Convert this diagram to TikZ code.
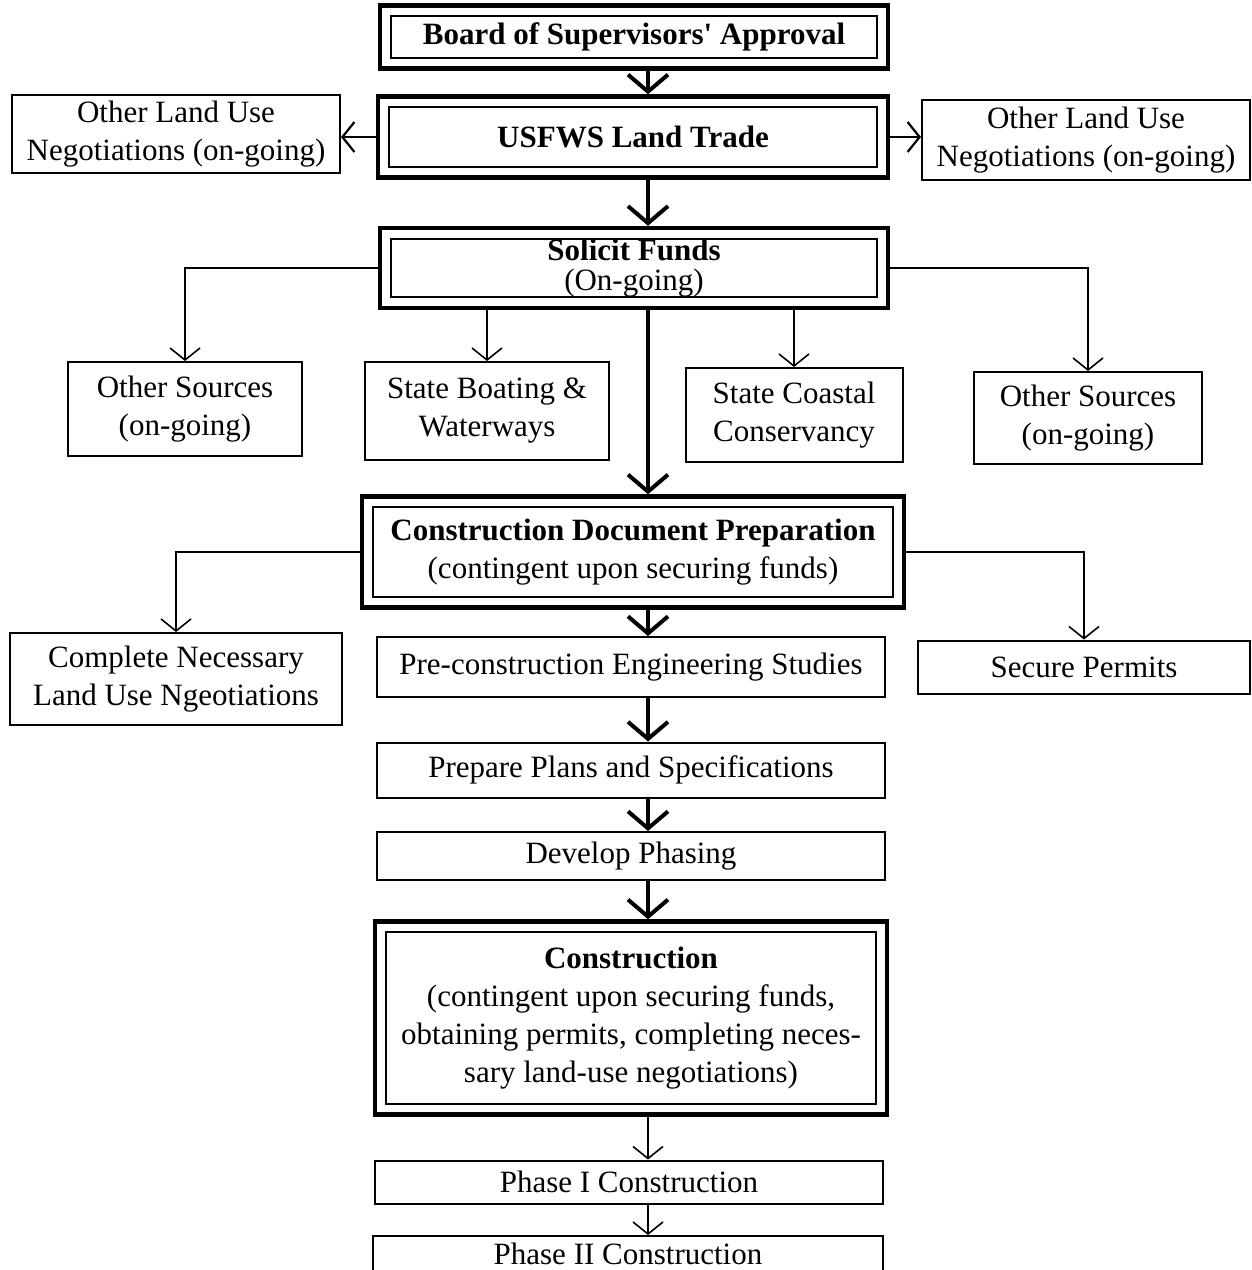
\documentclass[tikz,border=0pt]{standalone}
\usepackage{fontspec}
\setmainfont{Liberation Serif}
\usetikzlibrary{arrows.meta}

\begin{document}
\begin{tikzpicture}[
		x=1pt, y=-1pt,
		every node/.style={font=\fontsize{31}{38}\selectfont},
		box/.style={draw, line width=2pt, align=center, inner sep=0pt},
		dbox/.style={draw, line width=4.5pt, align=center, inner sep=0pt},
		inbox/.style={line width=2pt},
		mainarr/.style={line width=4pt, -{Straight Barb[length=17pt,width=40pt]}},
		sidearr/.style={line width=2.2pt, -{Straight Barb[length=12pt,width=30pt]}},
		subarr/.style={line width=1.6pt, -{Straight Barb[length=12pt,width=30pt]}}
	]
	\clip (0,0) rectangle (1252,1270);
	\fill[white] (0,0) rectangle (1252,1270);
	\coordinate (spine) at (648,0);

	% approval and land trade
	\node[dbox, minimum width=508, minimum height=63] (board) at (634,37) {\textbf{Board of Supervisors\textquotesingle\ Approval}};
	\node[dbox, minimum width=510, minimum height=81] (usfws) at (633,137) {\textbf{USFWS Land Trade}};
	\node[box, minimum width=328, minimum height=78] (landL) at (176,134) {Other Land Use\\Negotiations (on-going)};
	\node[box, minimum width=328, minimum height=80] (landR) at (1086,140) {Other Land Use\\Negotiations (on-going)};

	% funding
	\node[dbox, minimum width=508, minimum height=80] (solicit) at (634,268) {\textbf{Solicit Funds}\\[-8pt](On-going)};
	\node[box, minimum width=234, minimum height=94] (srcL) at (185,409) {Other Sources\\(on-going)};
	\node[box, minimum width=244, minimum height=98] (boat) at (487,411) {State Boating \&\\Waterways};
	\node[box, minimum width=217, minimum height=94] (coast) at (794,415) {State Coastal\\Conservancy};
	\node[box, minimum width=228, minimum height=92] (srcR) at (1088,418) {Other Sources\\(on-going)};

	% design
	\node[dbox, minimum width=542, minimum height=111] (cdp) at (633,552) {\textbf{Construction Document Preparation}\\(contingent upon securing funds)};
	\node[box, minimum width=332, minimum height=92] (compl) at (176,679) {Complete Necessary\\Land Use Ngeotiations};
	\node[box, minimum width=508, minimum height=60] (pre) at (631,667) {Pre-construction Engineering Studies};
	\node[box, minimum width=332, minimum height=53] (permit) at (1084,667) {Secure Permits};
	\node[box, minimum width=508, minimum height=55] (plans) at (631,770) {Prepare Plans and Specifications};
	\node[box, minimum width=508, minimum height=48] (phasing) at (631,856) {Develop Phasing};

	% construction
	\node[dbox, minimum width=512, minimum height=193] (constr) at (631,1018) {\textbf{Construction}\\(contingent upon securing funds,\\obtaining permits, completing neces-\\sary land-use negotiations)};
	\node[box, minimum width=508, minimum height=43] (ph1) at (629,1182) {Phase I Construction};
	\node[box, minimum width=510, minimum height=36] (ph2) at (628,1254) {Phase II Construction};

	\foreach \n in {board,usfws,solicit,cdp,constr}
		\draw[inbox] ([shift={(13,13)}]\n.north west) rectangle ([shift={(-13,-13)}]\n.south east);

	% connectors
	\draw[mainarr] (board.south -| spine) -- (usfws.north -| spine);
	\draw[sidearr] (usfws.west) -- (usfws.west -| landL.east);
	\draw[sidearr] (usfws.east) -- (usfws.east -| landR.west);
	\draw[mainarr] (usfws.south -| spine) -- (solicit.north -| spine);
	\draw[subarr] (solicit.west) -| (srcL.north);
	\draw[subarr] (boat.north |- solicit.south) -- (boat.north);
	\draw[subarr] (coast.north |- solicit.south) -- (coast.north);
	\draw[subarr] (solicit.east) -| (srcR.north);
	\draw[mainarr] (solicit.south -| spine) -- (cdp.north -| spine);
	\draw[subarr] (cdp.west) -| (compl.north);
	\draw[subarr] (cdp.east) -| (permit.north);
	\draw[mainarr] (cdp.south -| spine) -- (pre.north -| spine);
	\draw[mainarr] (pre.south -| spine) -- (plans.north -| spine);
	\draw[mainarr] (plans.south -| spine) -- (phasing.north -| spine);
	\draw[mainarr] (phasing.south -| spine) -- (constr.north -| spine);
	\draw[subarr] (constr.south -| spine) -- (ph1.north -| spine);
	\draw[subarr] (ph1.south -| spine) -- (ph2.north -| spine);
\end{tikzpicture}
\end{document}
